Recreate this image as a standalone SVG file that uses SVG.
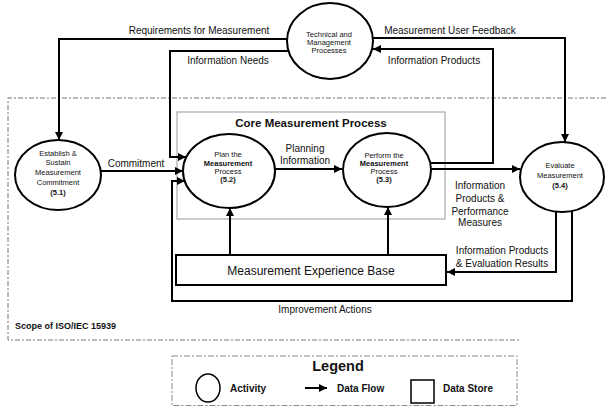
<svg xmlns="http://www.w3.org/2000/svg" width="606" height="407" viewBox="0 0 606 407">
<defs>
<marker id="arr" viewBox="0 0 10 10" refX="10" refY="5" markerWidth="9" markerHeight="8" markerUnits="userSpaceOnUse" orient="auto">
<path d="M0,0 L10,5 L0,10 z" fill="#000"/>
</marker>
<style>
text{font-family:"Liberation Sans",Arial,sans-serif;fill:#111}
.node{fill:#fff;stroke:#000;stroke-width:2}
.conn{fill:none;stroke:#000;stroke-width:2;marker-end:url(#arr)}
.lbl{font-size:10px;text-anchor:middle}
.nt{font-size:7.5px;text-anchor:middle}
.b{font-weight:bold}
.dash{fill:none;stroke:#777;stroke-width:1;stroke-dasharray:5 2 2 2}
</style>
</defs>
<rect width="606" height="407" fill="#fff"/>

<g id="scope">
<path class="dash" d="M606,98 H8 V340 H520"/>
<text x="15" y="329" class="b" font-size="9">Scope of ISO/IEC 15939</text>
</g>

<g id="core">
<rect x="177" y="112" width="268" height="107" fill="none" stroke="#999" stroke-width="1"/>
<text x="311" y="127" class="b" font-size="11.5" text-anchor="middle">Core Measurement Process</text>
</g>

<g id="connectors">
<path class="conn" d="M287,39 H59 V140"/>
<path class="conn" d="M288,51 H170 V157 H186"/>
<path class="conn" d="M101,171 H183"/>
<path class="conn" d="M572,211 V301 H172 V181 H185"/>
<path class="conn" d="M275,169 H342"/>
<path class="conn" d="M430,163 H493 V49 H373"/>
<path class="conn" d="M431,169 H520"/>
<path class="conn" d="M372,38 H565 V142"/>
<path class="conn" d="M230,255 V208"/>
<path class="conn" d="M388,255 V207"/>
<path class="conn" d="M556,211 V272 H447"/>
</g>

<g id="labels">
<text x="199" y="33.5" class="lbl">Requirements for Measurement</text>
<text x="228" y="63.5" class="lbl">Information Needs</text>
<text x="450" y="33.5" class="lbl">Measurement User Feedback</text>
<text x="434" y="63.5" class="lbl">Information Products</text>
<text x="136" y="166.5" class="lbl" font-size="10.5">Commitment</text>
<text x="305" y="151.5" class="lbl">Planning</text>
<text x="305" y="163.5" class="lbl">Information</text>
<text x="480" y="188.5" class="lbl" font-size="10.5">Information</text>
<text x="480" y="201.5" class="lbl" font-size="10.5">Products &amp;</text>
<text x="480" y="214.5" class="lbl" font-size="10.5">Performance</text>
<text x="480" y="225.5" class="lbl" font-size="10.5">Measures</text>
<text x="502" y="253.5" class="lbl">Information Products</text>
<text x="502" y="266.5" class="lbl">&amp; Evaluation Results</text>
<text x="325" y="312.5" class="lbl" font-size="9.5">Improvement Actions</text>
</g>

<g id="tech">
<ellipse class="node" cx="330" cy="41" rx="43" ry="38"/>
<text x="329" y="36.5" class="nt">Technical and</text>
<text x="329" y="44.5" class="nt">Management</text>
<text x="329" y="52.5" class="nt">Processes</text>
</g>

<g id="establish">
<ellipse class="node" cx="58" cy="175" rx="43" ry="35"/>
<text x="58" y="156" class="nt" font-size="8">Establish &amp;</text>
<text x="58" y="165" class="nt" font-size="8">Sustain</text>
<text x="58" y="175" class="nt" font-size="8">Measurement</text>
<text x="58" y="185" class="nt" font-size="8">Commitment</text>
<text x="58" y="195" class="nt b" font-size="8">(5.1)</text>
</g>

<g id="plan">
<ellipse class="node" cx="229" cy="171" rx="46" ry="37"/>
<text x="228" y="157" class="nt">Plan the</text>
<text x="228" y="166" class="nt b">Measurement</text>
<text x="228" y="174" class="nt">Process</text>
<text x="228" y="182" class="nt b">(5.2)</text>
</g>

<g id="perform">
<ellipse class="node" cx="387" cy="170" rx="44" ry="37"/>
<text x="384" y="158" class="nt">Perform the</text>
<text x="384" y="166" class="nt b">Measurement</text>
<text x="384" y="174" class="nt">Process</text>
<text x="384" y="182" class="nt b">(5.3)</text>
</g>

<g id="evaluate">
<ellipse class="node" cx="562" cy="177" rx="42" ry="35"/>
<text x="560" y="168" class="nt">Evaluate</text>
<text x="560" y="178" class="nt">Measurement</text>
<text x="560" y="188" class="nt b">(5.4)</text>
</g>

<g id="meb">
<rect class="node" x="176" y="255" width="270" height="30"/>
<text x="311" y="274.5" font-size="12" text-anchor="middle">Measurement Experience Base</text>
</g>

<g id="legend">
<rect x="172" y="356" width="345" height="49.5" fill="none" stroke="#888" stroke-width="1" stroke-dasharray="6 2 2 2"/>
<text x="338" y="371" class="b" font-size="14.5" text-anchor="middle">Legend</text>
<ellipse cx="208" cy="388" rx="12" ry="14" fill="none" stroke="#000" stroke-width="1.5"/>
<text x="230" y="392" class="b" font-size="10">Activity</text>
<line x1="305" y1="388" x2="327" y2="388" stroke="#000" stroke-width="2" marker-end="url(#arr)"/>
<text x="337" y="392" class="b" font-size="10">Data Flow</text>
<rect x="411" y="380" width="23" height="23" fill="none" stroke="#000" stroke-width="1.5"/>
<text x="443" y="392" class="b" font-size="10">Data Store</text>
</g>
</svg>
